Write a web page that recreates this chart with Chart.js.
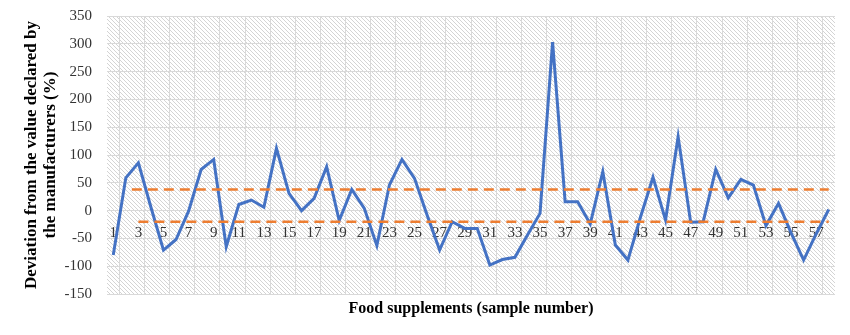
<!DOCTYPE html>
<html>
<head>
<meta charset="utf-8">
<title>Deviation from declared values</title>
<script src="https://cdn.jsdelivr.net/npm/chart.js"></script>
<style>
  html, body { margin: 0; padding: 0; background: #ffffff; }
  #wrap { width: 850px; height: 335px; }
</style>
</head>
<body>
<div id="wrap"><canvas id="deviationChart" width="850" height="335"></canvas></div>
<script>
// sample numbers along the x axis
const samples = ['1', '2', '3', '4', '5', '6', '7', '8', '9', '10',
    '11', '12', '13', '14', '15', '16', '17', '18', '19', '20',
    '21', '22', '23', '24', '25', '26', '27', '28', '29', '30',
    '31', '32', '33', '34', '35', '36', '37', '38', '39', '40',
    '41', '42', '43', '44', '45', '46', '47', '48', '49', '50',
    '51', '52', '53', '54', '55', '56', '57', '58'];

// deviation (%) of each sample from the declared value
const deviation = [-80, 59, 86, 6, -71, -52, -1, 74, 92, -65,
    11, 19, 6, 112, 31, 0, 22, 79, -18, 38,
    4, -63, 46, 92, 58, -8, -71, -20, -32, -32,
    -98, -88, -84, -44, -5, 303, 16, 16, -24, 70,
    -62, -89, -12, 60, -17, 133, -21, -20, 74, 23,
    56, 46, -27, 13, -40, -89, -42, 2];

// tolerance band
const upperLimit = 38;
const lowerLimit = -20;

const yTicks = { min: -150, max: 350, step: 50 };

const upperLine = samples.map((s, i) => (i >= 1 ? upperLimit : null));
const lowerLine = samples.map((s, i) => (i >= 2 ? lowerLimit : null));

const serif = '"Book Antiqua", "Palatino Linotype", "Liberation Serif", serif';

// light diagonal hatching behind the plot
const hatchBackground = {
    id: 'hatchBackground',
    beforeDraw(chart) {
        const { ctx, chartArea: a } = chart;
        const tile = document.createElement('canvas');
        tile.width = 4;
        tile.height = 4;
        const t = tile.getContext('2d');
        t.fillStyle = '#ffffff';
        t.fillRect(0, 0, 4, 4);
        t.strokeStyle = '#d4d4d4';
        t.lineWidth = 1;
        t.beginPath();
        t.moveTo(0, 0); t.lineTo(4, 4);
        t.moveTo(-1, 3); t.lineTo(1, 5);
        t.moveTo(3, -1); t.lineTo(5, 1);
        t.stroke();
        ctx.save();
        ctx.fillStyle = ctx.createPattern(tile, 'repeat');
        ctx.fillRect(a.left, a.top, a.width, a.height);
        ctx.restore();
    }
};

// sample numbers sit just under the zero line, every second one
const sampleTicks = {
    id: 'sampleTicks',
    beforeDatasetsDraw(chart) {
        const { ctx, scales: { x, y } } = chart;
        const yPos = y.getPixelForValue(0) + 22;
        ctx.save();
        ctx.font = '15px ' + serif;
        ctx.fillStyle = '#333333';
        ctx.textAlign = 'center';
        ctx.textBaseline = 'middle';
        samples.forEach((s, i) => {
            if (i % 2 === 0) ctx.fillText(s, x.getPixelForValue(i), yPos);
        });
        ctx.restore();
    }
};

new Chart(document.getElementById('deviationChart'), {
    type: 'line',
    data: {
        labels: samples,
        datasets: [
            {
                label: 'Deviation',
                data: deviation,
                borderColor: '#4472C4',
                borderWidth: 3,
                pointRadius: 0,
                tension: 0,
                order: 2
            },
            {
                label: 'Upper limit',
                data: upperLine,
                borderColor: '#ED7D31',
                borderWidth: 2.5,
                borderDash: [10, 6],
                borderDashOffset: 10,
                pointRadius: 0,
                order: 1
            },
            {
                label: 'Lower limit',
                data: lowerLine,
                borderColor: '#ED7D31',
                borderWidth: 2.5,
                borderDash: [10, 6],
                pointRadius: 0,
                order: 1
            }
        ]
    },
    options: {
        responsive: false,
        animation: false,
        devicePixelRatio: 1,
        layout: { padding: { left: 0, right: 15, top: 16, bottom: 0 } },
        plugins: {
            legend: { display: false },
            tooltip: { enabled: false }
        },
        scales: {
            x: {
                offset: true,
                grid: {
                    offset: true,
                    drawTicks: false,
                    color: c => (c.index % 2 === 1 ? '#d9d9d9' : 'rgba(0,0,0,0)')
                },
                border: { display: false },
                ticks: { display: false },
                title: {
                    display: true,
                    text: 'Food supplements (sample number)',
                    color: '#000000',
                    font: { family: serif, size: 16, weight: 'bold' },
                    padding: { top: 0, bottom: 17 }
                },
                afterFit: s => { s.height = 41; }
            },
            y: {
                min: yTicks.min,
                max: yTicks.max,
                grid: { color: '#d9d9d9', drawTicks: false },
                border: { display: false },
                ticks: {
                    stepSize: yTicks.step,
                    padding: 15,
                    color: '#333333',
                    font: { family: serif, size: 15 }
                },
                title: {
                    display: true,
                    text: ['Deviation from the value declared by', 'the manufacturers (%)'],
                    color: '#000000',
                    font: { family: serif, size: 17, weight: 'bold', lineHeight: 1.12 },
                    padding: { top: 22, bottom: 0 }
                },
                afterFit: s => {
                    s.width = 107;
                    s.paddingTop = 0;
                    s.paddingBottom = 0;
                }
            }
        }
    },
    plugins: [hatchBackground, sampleTicks]
});
</script>
</body>
</html>
